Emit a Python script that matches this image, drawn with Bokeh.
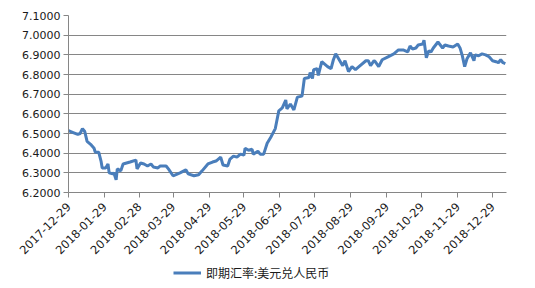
import math
from datetime import datetime
from bokeh.plotting import figure
from bokeh.layouts import column
from bokeh.models import (ColumnDataSource, FixedTicker, DatetimeTickFormatter,
                          Range1d, Legend, LegendItem, NumeralTickFormatter)
from bokeh.embed import file_html
from bokeh.resources import INLINE

series_name = "即期汇率:美元兑人民币"

dates = [
    "2017-12-29", "2018-01-02", "2018-01-06", "2018-01-08", "2018-01-10", "2018-01-12",
    "2018-01-14", "2018-01-17", "2018-01-20", "2018-01-21", "2018-01-24", "2018-01-26",
    "2018-01-27", "2018-01-30", "2018-02-01", "2018-02-02", "2018-02-05", "2018-02-06",
    "2018-02-08", "2018-02-09", "2018-02-12", "2018-02-14", "2018-02-20", "2018-02-25",
    "2018-02-26", "2018-03-01", "2018-03-04", "2018-03-07", "2018-03-10", "2018-03-12",
    "2018-03-16", "2018-03-18", "2018-03-23", "2018-03-25", "2018-03-29", "2018-04-02",
    "2018-04-04", "2018-04-09", "2018-04-11", "2018-04-16", "2018-04-20", "2018-04-23",
    "2018-04-28", "2018-05-02", "2018-05-05", "2018-05-09", "2018-05-11", "2018-05-15",
    "2018-05-17", "2018-05-20", "2018-05-23", "2018-05-26", "2018-05-29", "2018-05-30",
    "2018-06-02", "2018-06-05", "2018-06-06", "2018-06-10", "2018-06-12", "2018-06-15",
    "2018-06-18", "2018-06-21", "2018-06-25", "2018-06-28", "2018-07-01", "2018-07-04",
    "2018-07-05", "2018-07-08", "2018-07-11", "2018-07-14", "2018-07-18", "2018-07-20",
    "2018-07-24", "2018-07-25", "2018-07-27", "2018-07-28", "2018-07-31", "2018-08-01",
    "2018-08-04", "2018-08-05", "2018-08-09", "2018-08-12", "2018-08-14", "2018-08-16",
    "2018-08-18", "2018-08-22", "2018-08-24", "2018-08-27", "2018-08-30", "2018-09-02",
    "2018-09-05", "2018-09-11", "2018-09-13", "2018-09-15", "2018-09-18", "2018-09-19",
    "2018-09-22", "2018-09-25", "2018-09-30", "2018-10-05", "2018-10-09", "2018-10-13",
    "2018-10-17", "2018-10-19", "2018-10-21", "2018-10-24", "2018-10-26", "2018-10-30",
    "2018-10-31", "2018-11-02", "2018-11-04", "2018-11-06", "2018-11-08", "2018-11-12",
    "2018-11-16", "2018-11-18", "2018-11-21", "2018-11-25", "2018-11-29", "2018-12-01",
    "2018-12-03", "2018-12-05", "2018-12-07", "2018-12-10", "2018-12-13", "2018-12-14",
    "2018-12-17", "2018-12-20", "2018-12-23", "2018-12-26", "2018-12-29", "2019-01-01",
    "2019-01-03", "2019-01-05", "2019-01-07", "2019-01-09",
]

rates = [
    6.515, 6.505, 6.495, 6.500, 6.525, 6.510,
    6.460, 6.445, 6.425, 6.405, 6.405, 6.360,
    6.325, 6.325, 6.345, 6.300, 6.295, 6.300,
    6.265, 6.320, 6.310, 6.345, 6.355, 6.365,
    6.320, 6.350, 6.345, 6.335, 6.345, 6.330,
    6.325, 6.335, 6.335, 6.320, 6.285, 6.295,
    6.300, 6.315, 6.295, 6.285, 6.290, 6.310,
    6.345, 6.355, 6.360, 6.380, 6.340, 6.335,
    6.370, 6.385, 6.380, 6.395, 6.390, 6.425,
    6.415, 6.420, 6.395, 6.410, 6.395, 6.395,
    6.450, 6.480, 6.525, 6.615, 6.630, 6.670,
    6.625, 6.650, 6.620, 6.685, 6.690, 6.780,
    6.785, 6.810, 6.780, 6.825, 6.830, 6.795,
    6.865, 6.860, 6.840, 6.830, 6.875, 6.905,
    6.885, 6.845, 6.870, 6.815, 6.840, 6.825,
    6.840, 6.870, 6.870, 6.845, 6.870, 6.865,
    6.840, 6.875, 6.890, 6.905, 6.925, 6.925,
    6.915, 6.945, 6.930, 6.935, 6.950, 6.955,
    6.975, 6.885, 6.920, 6.915, 6.935, 6.965,
    6.935, 6.950, 6.945, 6.940, 6.955, 6.935,
    6.895, 6.840, 6.880, 6.910, 6.870, 6.900,
    6.895, 6.905, 6.900, 6.890, 6.870, 6.865,
    6.860, 6.875, 6.860, 6.855,
]

tick_dates = [
    "2017-12-29", "2018-01-29", "2018-02-28", "2018-03-29", "2018-04-29",
    "2018-05-29", "2018-06-29", "2018-07-29", "2018-08-29", "2018-09-29",
    "2018-10-29", "2018-11-29", "2018-12-29",
]

y_ticks = [6.2, 6.3, 6.4, 6.5, 6.6, 6.7, 6.8, 6.9, 7.0, 7.1]

LINE_COLOR = "#4A7EBB"
TEXT_COLOR = "#1a1a1a"
AXIS_COLOR = "#868686"


def ms(s):
    return datetime.strptime(s, "%Y-%m-%d").timestamp() * 1000.0


x_vals = [datetime.strptime(d, "%Y-%m-%d") for d in dates]
src = ColumnDataSource(data=dict(x=x_vals, y=rates))

# ---- main chart ----
p = figure(width=535, height=264, x_axis_type="datetime",
           output_backend="svg", toolbar_location=None,
           x_range=Range1d(ms("2017-12-29"), ms("2019-01-10")),
           y_range=Range1d(6.2, 7.1))
p.min_border_left = 68
p.min_border_right = 29
p.min_border_top = 15
p.min_border_bottom = 72
p.outline_line_color = None
p.background_fill_color = "white"
p.border_fill_color = "white"

p.line("x", "y", source=src, line_color=LINE_COLOR, line_width=3)

p.xaxis.ticker = FixedTicker(ticks=[ms(t) for t in tick_dates])
p.xaxis.formatter = DatetimeTickFormatter(
    days="%Y-%m-%d", months="%Y-%m-%d", years="%Y-%m-%d",
    hours="%Y-%m-%d", minutes="%Y-%m-%d", seconds="%Y-%m-%d",
    milliseconds="%Y-%m-%d", minsec="%Y-%m-%d", hourmin="%Y-%m-%d")
p.xaxis.major_label_orientation = math.pi / 4
p.xaxis.minor_tick_line_color = None
p.xaxis.major_tick_in = 0
p.xaxis.major_tick_out = 5
p.xaxis.axis_line_color = AXIS_COLOR
p.xaxis.major_tick_line_color = AXIS_COLOR
p.xaxis.major_label_text_font = "DejaVu Sans"
p.xaxis.major_label_text_font_size = "11.5px"
p.xaxis.major_label_text_color = TEXT_COLOR
p.xaxis.major_label_standoff = 7

p.yaxis.ticker = FixedTicker(ticks=y_ticks)
p.yaxis.formatter = NumeralTickFormatter(format="0.0000")
p.yaxis.minor_tick_line_color = None
p.yaxis.major_tick_in = 0
p.yaxis.major_tick_out = 5
p.yaxis.axis_line_color = AXIS_COLOR
p.yaxis.major_tick_line_color = AXIS_COLOR
p.yaxis.major_label_text_font = "DejaVu Sans"
p.yaxis.major_label_text_font_size = "11px"
p.yaxis.major_label_text_color = TEXT_COLOR
p.yaxis.major_label_standoff = 3

p.xgrid.grid_line_color = None
p.ygrid.grid_line_color = AXIS_COLOR
p.ygrid.grid_line_width = 1

# ---- legend strip (series line sits outside this strip's view) ----
lg = figure(width=535, height=24, output_backend="svg", toolbar_location=None,
            x_axis_location=None, y_axis_location=None,
            x_range=Range1d(0, 1), y_range=Range1d(0, 1))
lg.min_border_left = 68
lg.min_border_right = 29
lg.min_border_top = 0
lg.min_border_bottom = 8
lg.outline_line_color = None
lg.xgrid.grid_line_color = None
lg.ygrid.grid_line_color = None
lg.background_fill_color = "white"
lg.border_fill_color = "white"
swatch = lg.line("x", "y", source=src, line_color=LINE_COLOR, line_width=3)

legend = Legend(items=[LegendItem(label=series_name, renderers=[swatch])],
                orientation="horizontal", location="center_left",
                label_text_font="Noto Sans CJK SC", label_text_font_size="12px",
                label_text_color=TEXT_COLOR, border_line_color=None,
                background_fill_alpha=0, glyph_width=28, glyph_height=12,
                padding=0, margin=105, label_standoff=5)
lg.add_layout(legend, "center")

layout = column(p, lg, spacing=0)
open("out.html", "w").write(file_html(layout, INLINE))
